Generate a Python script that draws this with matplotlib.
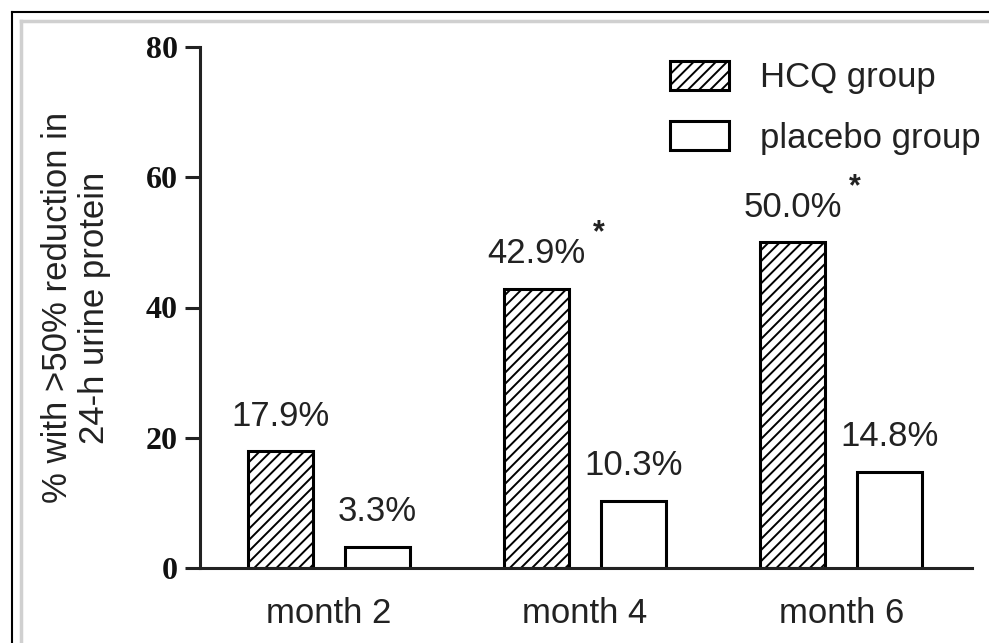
import matplotlib
matplotlib.use("Agg")
import matplotlib.pyplot as plt
from matplotlib.lines import Line2D
import numpy as np

categories = ["month 2", "month 4", "month 6"]
hcq = [17.9, 42.9, 50.0]
placebo = [3.3, 10.3, 14.8]
hcq_labels = ["17.9%", "42.9%", "50.0%"]
placebo_labels = ["3.3%", "10.3%", "14.8%"]
hcq_sig = [False, True, True]
yticks = [0, 20, 40, 60, 80]
series_names = ["HCQ group", "placebo group"]

plt.rcParams['font.family'] = ['Liberation Sans', 'DejaVu Sans']
plt.rcParams['hatch.linewidth'] = 1.4

fig = plt.figure(figsize=(9.89, 6.43), dpi=100)
ax = fig.add_axes([200/989, 1-568/643, (972-200)/989, (568-47)/643])

x = np.arange(len(categories))
w = 0.253
off = 0.189
txt = '#222222'

b1 = ax.bar(x - off, hcq, w, facecolor='white', edgecolor='black', hatch='///',
            linewidth=2.2, label=series_names[0])
b2 = ax.bar(x + off, placebo, w, facecolor='white', edgecolor='black',
            linewidth=2.2, label=series_names[1])

for xi, v, lab, sig in zip(x - off, hcq, hcq_labels, hcq_sig):
    ax.annotate(lab, (xi, v), xytext=(0, 18.5), textcoords='offset points',
                ha='center', va='baseline', fontsize=25, color=txt)
    if sig:
        ax.annotate('*', (xi, v), xytext=(44.5, 40), textcoords='offset points',
                    ha='center', va='center', fontsize=22, fontweight='bold', color=txt)
for xi, v, lab in zip(x + off, placebo, placebo_labels):
    ax.annotate(lab, (xi, v), xytext=(0, 18.5), textcoords='offset points',
                ha='center', va='baseline', fontsize=25, color=txt)

ax.set_xlim(-0.503, 2.51)
ax.set_ylim(0, 80)
ax.set_yticks(yticks)
ax.set_yticklabels([str(t) for t in yticks], fontfamily='Liberation Serif',
                   fontweight='bold', fontsize=23, color='#111111')
ax.set_xticks(x)
ax.set_xticklabels(categories, fontsize=25, color=txt)
ax.tick_params(axis='x', length=0, pad=21)
ax.tick_params(axis='y', length=11, width=2.2, pad=5, direction='out', color='#222222')

for s in ['top', 'right']:
    ax.spines[s].set_visible(False)
for s in ['left', 'bottom']:
    ax.spines[s].set_linewidth(2.2)
    ax.spines[s].set_color('#222222')

ax.set_ylabel("% with >50% reduction in\n24-h urine protein", fontsize=25,
              color=txt, linespacing=1.15, labelpad=25)

leg = ax.legend(loc='upper left', bbox_to_anchor=((670-200)/772, 1 - (61-47)/521),
                frameon=False, fontsize=25, handlelength=1.7, handleheight=0.9,
                handletextpad=0.9, labelspacing=0.78, borderaxespad=0, borderpad=0)
for t in leg.get_texts():
    t.set_color(txt)

# picture frame
fig.add_artist(Line2D([12/989, 12/989], [0, 1-12/643], transform=fig.transFigure,
                      color='black', linewidth=1.5))
fig.add_artist(Line2D([12/989, 1], [1-12/643, 1-12/643], transform=fig.transFigure,
                      color='black', linewidth=1.5))
fig.add_artist(Line2D([21/989, 21/989], [0, 1-21/643], transform=fig.transFigure,
                      color='#d0d0d0', linewidth=2.5))
fig.add_artist(Line2D([21/989, 1], [1-21/643, 1-21/643], transform=fig.transFigure,
                      color='#d0d0d0', linewidth=2.5))

fig.savefig("out.png", dpi=100)
